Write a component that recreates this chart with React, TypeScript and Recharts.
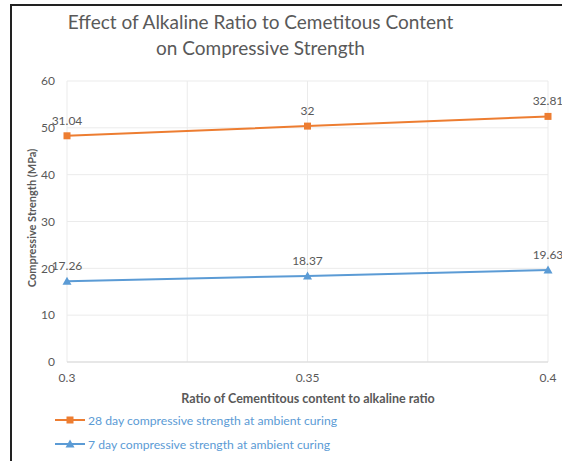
import React from 'react';
import { AreaChart, Area, XAxis, YAxis, CartesianGrid, LabelList } from 'recharts';

// ratio values on the x axis
const ratios = [0.3, 0.35, 0.4];
// strengths in MPa (the 28 day series is stacked on top of the 7 day one)
const day7 = [17.26, 18.37, 19.63];
const day28 = [31.04, 32, 32.81];

const xTicks = [0.3, 0.325, 0.35, 0.375, 0.4];
const xTickLabels = ['0.3', '0.35', '0.4'];
const yTicks = [0, 10, 20, 30, 40, 50, 60];

const titleLines = ['Effect of Alkaline Ratio to Cemetitous Content', 'on Compressive Strength'];
const xTitle = 'Ratio of Cementitous content to alkaline ratio';
const yTitle = 'Compressive Strength (MPa)';
const seriesNames = {
  day28: '28 day compressive strength at ambient curing',
  day7: '7 day compressive strength at ambient curing',
};

const data = ratios.map((r, i) => ({ ratio: r, day7: day7[i], day28: day28[i] }));

const ORANGE = '#ED7D31';
const BLUE = '#5B9BD5';
const GREY = '#595959';
const FONT = 'Lato, "Open Sans", sans-serif';

const SquareDot = (props: any) => (
  <rect key={`sq-${props.index}`} x={props.cx - 3.5} y={props.cy - 3.5} width={7} height={7} fill={ORANGE} />
);

const TriangleDot = (props: any) => (
  <path
    key={`tri-${props.index}`}
    d={`M${props.cx},${props.cy - 4.5} L${props.cx + 4.5},${props.cy + 3.5} L${props.cx - 4.5},${props.cy + 3.5} Z`}
    fill={BLUE}
  />
);

const LegendRow = ({ color, marker, text }: { color: string; marker: 'square' | 'triangle'; text: string }) => (
  <div style={{ display: 'flex', alignItems: 'center', height: 24 }}>
    <svg width={33} height={12}>
      <line x1={0} y1={6} x2={30} y2={6} stroke={color} strokeWidth={2} />
      {marker === 'square' ? (
        <rect x={11.5} y={2.5} width={7} height={7} fill={color} />
      ) : (
        <path d="M15,1.5 L19.5,9.5 L10.5,9.5 Z" fill={color} />
      )}
    </svg>
    <span style={{ color: BLUE, fontSize: 12.2, fontFamily: FONT }}>{text}</span>
  </div>
);

export default function App() {
  return (
    <div
      style={{
        position: 'absolute',
        left: 0,
        top: 0,
        width: 562,
        height: 461,
        background: '#fff',
        overflow: 'hidden',
        fontFamily: FONT,
      }}
    >
      <div
        style={{
          position: 'absolute',
          left: 10,
          top: 4,
          width: 600,
          height: 500,
          borderLeft: '2px solid #222',
          borderTop: '2px solid #222',
        }}
      />

      <div
        style={{
          position: 'absolute',
          left: 0,
          top: 9,
          width: 521,
          textAlign: 'center',
          color: GREY,
          fontSize: 19,
          lineHeight: '26px',
        }}
      >
        {titleLines.map((t) => (
          <div key={t}>{t}</div>
        ))}
      </div>

      <div style={{ position: 'absolute', left: 0, top: 0 }}>
        <AreaChart width={562} height={461} data={data} margin={{ top: 81, right: 14, bottom: 69, left: 0 }}>
          <CartesianGrid stroke="#ebebeb" />
          <XAxis
            dataKey="ratio"
            type="number"
            domain={[0.3, 0.4]}
            ticks={xTicks}
            tickFormatter={(v: number) => {
              const s = String(Number(v.toFixed(3)));
              return xTickLabels.includes(s) ? s : '';
            }}
            height={30}
            tickLine={false}
            tickSize={6}
            tickMargin={5}
            axisLine={{ stroke: '#d9d9d9' }}
            tick={{ fill: GREY, fontSize: 12, fontFamily: FONT }}
          />
          <YAxis
            domain={[0, 60]}
            ticks={yTicks}
            width={67}
            axisLine={false}
            tickLine={false}
            tickSize={6}
            tickMargin={6}
            tick={{ fill: GREY, fontSize: 12, fontFamily: FONT }}
          />
          <Area
            type="linear"
            dataKey="day7"
            name={seriesNames.day7}
            stackId="s"
            stroke={BLUE}
            strokeWidth={2}
            fill="none"
            dot={TriangleDot}
            activeDot={false}
            isAnimationActive={false}
          >
            <LabelList dataKey="day7" position="top" offset={11} fill={GREY} fontSize={12} fontFamily={FONT} />
          </Area>
          <Area
            type="linear"
            dataKey="day28"
            name={seriesNames.day28}
            stackId="s"
            stroke={ORANGE}
            strokeWidth={2}
            fill="none"
            dot={SquareDot}
            activeDot={false}
            isAnimationActive={false}
          >
            <LabelList dataKey="day28" position="top" offset={11} fill={GREY} fontSize={12} fontFamily={FONT} />
          </Area>
        </AreaChart>
      </div>

      <div
        style={{
          position: 'absolute',
          left: 31,
          top: 218,
          transform: 'translate(-50%, -50%) rotate(-90deg)',
          whiteSpace: 'nowrap',
          color: GREY,
          fontSize: 11,
          fontWeight: 700,
        }}
      >
        {yTitle}
      </div>

      <div
        style={{
          position: 'absolute',
          left: 308,
          top: 398,
          transform: 'translate(-50%, -50%)',
          whiteSpace: 'nowrap',
          color: GREY,
          fontSize: 12.5,
          fontWeight: 700,
        }}
      >
        {xTitle}
      </div>

      <div style={{ position: 'absolute', left: 55, top: 408 }}>
        <LegendRow color={ORANGE} marker="square" text={seriesNames.day28} />
        <LegendRow color={BLUE} marker="triangle" text={seriesNames.day7} />
      </div>
    </div>
  );
}
